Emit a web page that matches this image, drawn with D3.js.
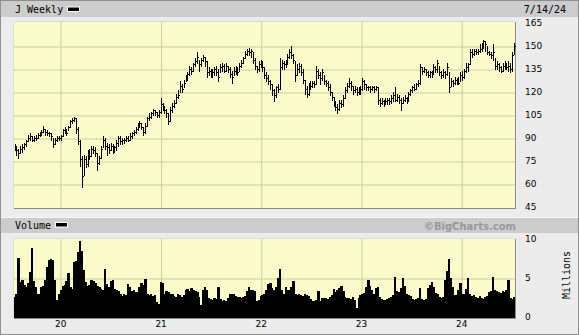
<!DOCTYPE html>
<html>
<head>
<meta charset="utf-8">
<title>J Weekly</title>
<style>
  body { margin: 0; background: #fff; }
  svg { display: block; }
  text { font-family: "DejaVu Sans Mono", monospace; font-size: 10px; fill: #000; }
  .tick text { font-family: "DejaVu Sans", sans-serif; font-size: 9px; fill: #000; }
  .grid line { stroke: #cccc99; }
  .grid path, .lab path { display: none; }
</style>
</head>
<body>
<div id="chart"></div>
<script src="https://cdn.jsdelivr.net/npm/d3@7"></script>
<script>
// weekly bars, first week ending 7/19/19
const closes = [
  84,82,80,83,84,86,88,90,91,89, 90,90,92,93,94,96,94,93,93,91,
  86,89,90,90,91,95,96,93,97,101, 102,103,96,88,76,65,76,73,80,78,
  83,82,80,74,77,83,89,85,84,82, 85,83,84,87,90,88,89,89,90,89,
  91,93,94,96,99,100,97,94,98,103, 104,106,108,107,105,107,112,110,108,106,
  101,108,111,113,117,118,124,122,126,129, 132,135,134,138,140,143,138,141,143,140,
  133,134,131,133,135,133,130,136,137,134, 137,135,132,130,134,135,133,137,139,142,
  145,147,146,147,141,137,135,138,140,136, 131,129,127,125,121,118,123,122,136,139,
  138,139,143,146,144,141,131,135,137,133, 128,122,119,125,124,126,125,134,131,129,
  133,127,126,123,120,117,113,110,109,113, 112,116,121,124,126,124,121,122,120,121,
  122,127,125,123,123,122,123,122,123,115, 113,114,113,114,115,114,116,118,115,117,
  115,113,115,116,115,119,121,123,122,125, 126,136,134,135,133,131,133,132,136,135,
  139,133,131,133,132,136,123,127,126,128, 127,126,131,130,134,136,138,146,145,147,
  146,147,148,150,153,151,146,145,144,146, 137,138,136,134,137,138,136,137,135,144,
  150
];
const highs = [
  86,85,83,85,86,87,89,92,93,91, 91,92,93,94,95,98,96,95,94,93,
  90,90,91,91,92,96,97,96,98,102, 103,104,103,97,89,78,79,78,82,83,
  85,85,84,80,78,85,91,90,87,86, 87,86,85,89,91,91,90,90,91,91,
  93,94,95,97,100,101,100,97,100,104, 106,107,109,108,107,108,116,113,111,109,
  106,110,113,115,119,121,127,125,128,131, 133,137,136,139,142,146,141,142,144,143,
  140,136,135,135,136,137,135,138,139,138, 139,137,136,134,136,137,136,139,141,143,
  147,148,149,148,146,142,137,140,141,140, 136,133,131,128,125,122,124,125,142,141,
  140,141,145,148,150,145,140,138,139,138, 135,128,124,126,127,127,127,137,135,133,
  135,131,128,127,125,120,117,114,112,115, 115,118,123,126,129,127,124,124,123,123,
  124,129,128,125,124,124,124,124,124,123, 116,116,115,116,116,116,118,120,123,119,
  118,116,117,118,117,120,122,124,125,126, 128,138,136,136,135,134,134,134,138,137,
  141,137,134,135,134,139,133,129,128,130, 129,130,133,134,135,139,139,148,148,148,
  148,148,151,152,154,153,150,147,146,151, 142,140,139,137,139,140,139,140,139,146,
  152
];
const lows = [
  82,79,77,80,81,83,85,88,89,88, 88,89,90,91,92,94,92,92,91,89,
  84,86,88,89,89,91,93,92,95,97, 100,101,93,86,72,58,66,71,72,76,
  78,80,78,69,73,77,84,83,79,80, 82,80,81,82,85,86,86,87,88,88,
  89,90,92,93,95,97,96,92,93,98, 102,103,105,105,104,104,106,108,106,104,
  99,101,107,110,113,116,120,120,123,127, 128,131,132,134,137,139,134,137,140,137,
  130,131,130,130,131,131,127,133,134,133, 134,133,130,126,131,132,131,134,136,139,
  142,144,144,143,139,135,133,134,136,134, 129,127,125,122,118,114,117,120,122,135,
  135,136,138,142,142,139,127,131,133,131, 126,119,117,118,122,123,123,125,129,125,
  128,125,124,121,118,115,111,108,106,108, 110,111,116,120,123,121,119,120,118,119,
  119,121,122,121,121,120,121,120,121,112, 111,112,111,112,112,112,113,114,114,114,
  113,108,113,114,113,114,118,120,121,122, 124,125,132,133,131,130,130,130,132,133,
  133,131,129,130,129,131,120,124,124,125, 125,125,127,128,129,133,134,138,143,144,
  145,145,146,147,149,147,145,144,142,141, 135,135,134,133,134,135,135,134,133,134,
  145
];
// millions of shares
const volumes = [
  2.6,3.0,7.6,4.5,4.7,4.1,3.9,4.3,5.8,8.8, 4.6,3.9,3.0,2.9,3.8,4.0,4.8,6.4,7.3,7.4,
  7.3,4.8,2.2,3.0,3.4,4.0,4.1,4.6,5.6,3.9, 3.6,7.0,7.2,8.3,9.7,8.5,6.0,4.5,4.0,4.1,
  4.7,4.6,4.4,4.0,3.9,3.6,3.4,6.2,4.2,3.8, 4.6,4.7,3.6,3.4,3.3,2.9,2.7,2.9,2.8,4.2,
  3.8,3.3,3.5,3.2,3.2,3.8,4.4,4.1,4.9,3.0, 2.8,2.9,2.7,2.8,1.9,1.7,4.5,4.3,3.0,3.3,
  3.2,3.0,2.9,2.7,2.6,3.0,2.8,2.6,2.8,3.4, 3.6,3.3,3.7,3.4,3.3,3.2,2.6,1.5,3.4,3.8,
  3.4,2.4,2.3,2.2,2.4,2.3,3.8,2.3,2.1,2.2, 2.0,2.4,2.9,2.9,3.0,2.7,2.6,2.6,2.5,2.6,
  2.7,3.3,3.8,3.4,3.5,3.3,2.0,2.2,2.7,2.8, 2.9,3.4,4.2,4.3,3.7,3.5,3.8,5.0,6.2,3.5,
  3.0,3.9,3.5,3.4,3.9,4.6,3.0,2.8,2.9,2.8, 2.7,2.9,2.8,2.7,2.3,2.1,2.0,2.2,3.3,2.1,
  2.4,2.5,2.4,2.3,2.6,2.8,3.6,3.2,3.5,3.7, 4.0,3.3,2.6,2.4,2.5,2.3,2.6,2.2,1.2,2.5,
  2.8,3.0,3.1,3.8,4.7,4.0,3.5,3.0,3.7,3.9, 2.6,2.3,2.2,2.2,2.3,2.4,2.6,2.8,5.1,3.3,
  3.2,3.7,5.0,4.0,3.0,2.8,2.7,2.3,2.2,2.3, 2.4,3.7,2.3,2.2,2.3,3.7,4.1,4.5,3.9,3.1,
  2.9,2.6,2.5,2.6,4.8,5.9,7.5,5.0,3.9,2.8, 2.8,3.4,4.3,3.0,2.9,3.6,5.0,3.0,2.7,2.8,
  2.6,2.4,2.7,2.5,2.3,2.6,2.7,3.2,3.3,5.1, 3.4,3.3,3.2,3.1,3.3,3.2,3.5,4.7,2.5,2.3,
  2.6
];
const priceTicks = [165, 150, 135, 120, 105, 90, 75, 60, 45];
const volTicks = [10, 5, 0];
const firstWeek = new Date(2019, 6, 19);

const w = 579, h = 335;
const L = 14, R = 515;

const dates = closes.map((c, i) => d3.timeDay.offset(firstWeek, i * 7));

const x = d3.scaleTime()
  .domain([new Date(2019, 6, 17), new Date(2024, 6, 15)])
  .range([L, R]);
const y = d3.scaleLinear().domain([45, 165]).range([207, 23]);
const yv = d3.scaleLinear().domain([0, 10]).range([317, 239]);

const svg = d3.select("#chart").append("svg")
  .attr("width", w).attr("height", h);

const defs = svg.append("defs");
const pat = defs.append("pattern").attr("id", "dots")
  .attr("width", 2).attr("height", 2).attr("patternUnits", "userSpaceOnUse");
pat.append("rect").attr("width", 2).attr("height", 2).attr("fill", "#ffffd6");
pat.append("rect").attr("width", 1).attr("height", 1).attr("fill", "#f8f8c2");
pat.append("rect").attr("x", 1).attr("y", 1).attr("width", 1).attr("height", 1).attr("fill", "#f8f8c2");

defs.append("clipPath").attr("id", "vclip").append("rect")
  .attr("x", L).attr("y", 239).attr("width", R - L).attr("height", 79);

// frame
svg.append("rect").attr("x", 0.5).attr("y", 0.5)
  .attr("width", w - 1).attr("height", h - 1)
  .attr("fill", "#ececec").attr("stroke", "#8f8f8f");

// title bars
svg.append("rect").attr("x", 1).attr("y", 1).attr("width", w - 2).attr("height", 16).attr("fill", "#cccccc");
svg.append("rect").attr("x", 1).attr("y", 217).attr("width", w - 2).attr("height", 1).attr("fill", "#f8f8f8");
svg.append("rect").attr("x", 1).attr("y", 218).attr("width", w - 2).attr("height", 15).attr("fill", "#cccccc");

// plot areas
svg.append("rect").attr("x", L).attr("y", 22).attr("width", R - L).attr("height", 186).attr("fill", "url(#dots)");
svg.append("rect").attr("x", L).attr("y", 239).attr("width", R - L).attr("height", 79).attr("fill", "url(#dots)");

// grids
svg.append("g").attr("class", "grid")
  .attr("transform", `translate(${L},0.5)`)
  .call(d3.axisLeft(y).tickValues(priceTicks.slice(1, -1)).tickSize(-(R - L)).tickFormat(""));
svg.append("g").attr("class", "grid")
  .attr("transform", "translate(0.5,208)")
  .call(d3.axisBottom(x).ticks(d3.timeYear).tickSize(-186).tickFormat(""));
svg.append("g").attr("class", "grid")
  .attr("transform", `translate(${L},0.5)`)
  .call(d3.axisLeft(yv).tickValues([5]).tickSize(-(R - L)).tickFormat(""));
svg.append("g").attr("class", "grid")
  .attr("transform", "translate(0.5,318)")
  .call(d3.axisBottom(x).ticks(d3.timeYear).tickSize(-79).tickFormat(""));

// plot edges
const edge = (x1, y1, x2, y2, c) => svg.append("line")
  .attr("x1", x1).attr("y1", y1).attr("x2", x2).attr("y2", y2)
  .attr("stroke", c).attr("shape-rendering", "crispEdges");
edge(L, 21.5, R, 21.5, "#dcdcdc"); edge(L - 0.5, 22, L - 0.5, 208, "#dcdcdc");
edge(L, 208.5, R + 1, 208.5, "#8c8c8c"); edge(R + 0.5, 22, R + 0.5, 209, "#8c8c8c");
edge(L, 238.5, R, 238.5, "#dcdcdc"); edge(L - 0.5, 239, L - 0.5, 318, "#dcdcdc");
edge(L, 318.5, R + 1, 318.5, "#8c8c8c"); edge(R + 0.5, 239, R + 0.5, 319, "#8c8c8c");

// price bars
const px = i => Math.round(x(dates[i]));
const bars = svg.append("g").attr("fill", "#000").attr("shape-rendering", "crispEdges");
bars.selectAll("rect.hl").data(closes).join("rect").attr("class", "hl")
  .attr("x", (d, i) => px(i))
  .attr("y", (d, i) => Math.round(y(highs[i])))
  .attr("width", 1)
  .attr("height", (d, i) => Math.max(1, Math.round(y(lows[i])) - Math.round(y(highs[i])) + 1));
bars.selectAll("rect.cl").data(closes).join("rect").attr("class", "cl")
  .attr("x", (d, i) => px(i) + 1)
  .attr("y", d => Math.round(y(d)))
  .attr("width", 1).attr("height", 1);

// volume bars
svg.append("g").attr("clip-path", "url(#vclip)").attr("shape-rendering", "crispEdges")
  .selectAll("rect").data(volumes).join("rect")
  .attr("x", (d, i) => x(dates[i]) - 1)
  .attr("y", d => yv(d))
  .attr("width", 2.4)
  .attr("height", d => 318 - yv(d))
  .attr("fill", "#000");

// axis labels
svg.append("g").attr("class", "lab")
  .attr("transform", "translate(525,0)")
  .call(d3.axisRight(y).tickValues(priceTicks).tickSize(0).tickPadding(0));
svg.append("g").attr("class", "lab")
  .attr("transform", "translate(525,0)")
  .call(d3.axisRight(yv).tickValues(volTicks).tickSize(0).tickPadding(0));
svg.append("g").attr("class", "lab")
  .attr("transform", "translate(0,321)")
  .call(d3.axisBottom(x).ticks(d3.timeYear).tickFormat(d3.timeFormat("%y")).tickSize(0).tickPadding(0));

// titles
svg.append("text").attr("x", 15).attr("y", 13).text("J Weekly");
svg.append("rect").attr("x", 67).attr("y", 6.5).attr("width", 13).attr("height", 5.5).attr("fill", "#fff");
svg.append("rect").attr("x", 68).attr("y", 7.5).attr("width", 11).attr("height", 3.5).attr("fill", "#000");
svg.append("text").attr("x", 566).attr("y", 13).attr("text-anchor", "end").text("7/14/24");

svg.append("text").attr("x", 15).attr("y", 229).text("Volume");
svg.append("rect").attr("x", 55).attr("y", 222).attr("width", 13).attr("height", 5.5).attr("fill", "#fff");
svg.append("rect").attr("x", 56).attr("y", 223).attr("width", 11).attr("height", 3.5).attr("fill", "#000");
svg.append("text").attr("x", 516).attr("y", 229.5).attr("text-anchor", "end")
  .style("font-family", "'DejaVu Sans', sans-serif").style("font-weight", "bold")
  .style("font-size", "10px").style("fill", "#999")
  .text("\u00a9BigCharts.com");

svg.append("text").attr("transform", "translate(570,275) rotate(-90)")
  .attr("text-anchor", "middle").text("Millions");
</script>
</body>
</html>
